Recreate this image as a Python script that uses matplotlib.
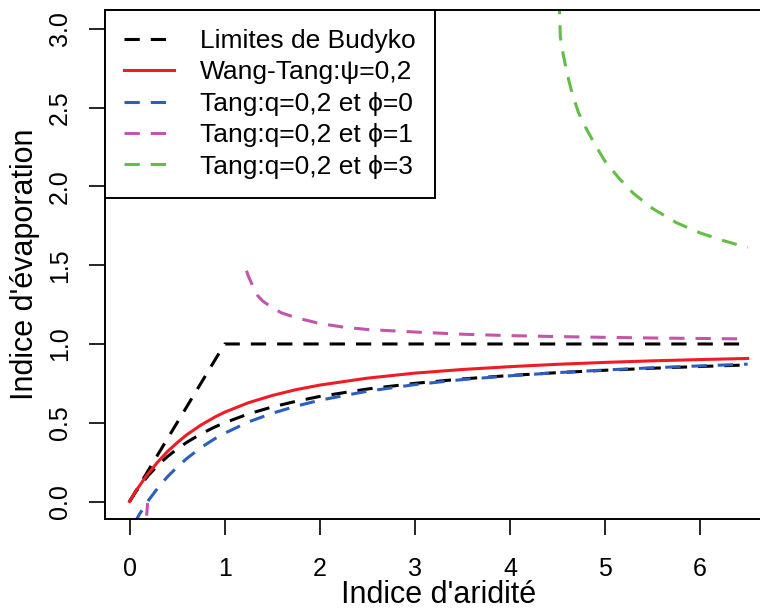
import numpy as np
import matplotlib
matplotlib.use("Agg")
import matplotlib.pyplot as plt

plt.rcParams['font.family'] = ['Liberation Sans', 'DejaVu Sans']

# limites de Budyko
x_lim = [0, 1, 6.5]
y_lim = [0, 1, 1]

# grille commune pour les courbes lisses
x_grid = [0, 0.05, 0.1, 0.15, 0.2, 0.3, 0.4, 0.5, 0.6, 0.75, 0.9, 1.0, 1.25,
          1.5, 1.75, 2.0, 2.5, 3.0, 3.5, 4.0, 4.5, 5.0, 5.5, 6.0, 6.5]
y_budyko = [0, 0.048, 0.091, 0.130, 0.167, 0.231, 0.286, 0.333, 0.375, 0.429,
            0.474, 0.500, 0.556, 0.600, 0.636, 0.667, 0.714, 0.750, 0.778,
            0.800, 0.818, 0.833, 0.846, 0.857, 0.867]
y_wang = [0, 0.050, 0.096, 0.139, 0.180, 0.253, 0.318, 0.373, 0.423, 0.485,
          0.537, 0.567, 0.627, 0.673, 0.710, 0.739, 0.783, 0.815, 0.838,
          0.856, 0.871, 0.883, 0.893, 0.901, 0.908]

x_tang0 = x_grid[1:]
y_tang0 = [-0.140, -0.085, -0.038, 0.008, 0.088, 0.158, 0.218, 0.272, 0.342,
           0.400, 0.433, 0.505, 0.560, 0.605, 0.643, 0.700, 0.742, 0.774,
           0.798, 0.818, 0.835, 0.849, 0.861, 0.872]

x_tang1 = [0.18, 0.19, np.nan, 1.23, 1.25, 1.3, 1.35, 1.4, 1.5, 1.6, 1.75, 2.0,
           2.25, 2.5, 3.0, 3.5, 4.0, 4.5, 5.0, 5.5, 6.0, 6.5]
y_tang1 = [-0.09, -0.01, np.nan, 1.465, 1.43, 1.362, 1.305, 1.273, 1.23, 1.197,
           1.167, 1.130, 1.107, 1.092, 1.076, 1.062, 1.053, 1.047, 1.042,
           1.038, 1.035, 1.032]

x_tang3 = [4.515, 4.52, 4.53, 4.56, 4.6, 4.65, 4.72, 4.8, 4.9, 5.0, 5.15, 5.3,
           5.5, 5.75, 6.0, 6.25, 6.5]
y_tang3 = [3.3, 3.15, 2.95, 2.84, 2.72, 2.60, 2.47, 2.37, 2.26, 2.16, 2.05,
           1.955, 1.86, 1.77, 1.705, 1.655, 1.612]

labels = ['Limites de Budyko', 'Wang-Tang:ψ=0,2', 'Tang:q=0,2 et ϕ=0',
          'Tang:q=0,2 et ϕ=1', 'Tang:q=0,2 et ϕ=3']
colors = ['black', '#EE1C25', '#2B5EBE', '#C255AC', '#62BE45']

fig = plt.figure(figsize=(7.6, 6.12), dpi=100)
ax = fig.add_axes([105 / 760, 93 / 612, 667 / 760, 509 / 612])

lw = 2.2
dash = (5, 3.6)
l1, = ax.plot(x_lim, y_lim, color=colors[0], lw=lw, dashes=dash)
ax.plot(x_grid, y_budyko, color=colors[0], lw=lw, dashes=dash)
l2, = ax.plot(x_grid, y_wang, color=colors[1], lw=lw)
l3, = ax.plot(x_tang0, y_tang0, color=colors[2], lw=lw, dashes=dash)
l4, = ax.plot(x_tang1, y_tang1, color=colors[3], lw=lw, dashes=dash)
l5, = ax.plot(x_tang3, y_tang3, color=colors[4], lw=lw, dashes=dash)

ax.set_xlim(-0.258, 6.756)
ax.set_ylim(-0.111, 3.12)
ax.set_xticks(range(7))
ax.set_yticks([0, 0.5, 1.0, 1.5, 2.0, 2.5, 3.0])
ax.set_yticklabels(['0.0', '0.5', '1.0', '1.5', '2.0', '2.5', '3.0'],
                   rotation=90, va='center')
ax.tick_params(axis='both', labelsize=18, length=11.5, width=1.2)
ax.tick_params(axis='x', pad=16)
ax.tick_params(axis='y', pad=12.5)
for s in ax.spines.values():
    s.set_linewidth(1.4)

ax.set_xlabel("Indice d'aridité", fontsize=22, va='center')
ax.set_ylabel("Indice d'évaporation", fontsize=22, va='center')
ax.xaxis.set_label_coords(0.5, (519 - 595) / 509)
ax.yaxis.set_label_coords((25 - 105) / 667, 0.5)

leg = ax.legend([l1, l2, l3, l4, l5], labels, loc='upper left',
                bbox_to_anchor=(0, 1), borderaxespad=0, fontsize=19,
                frameon=True, fancybox=False, edgecolor='black',
                framealpha=1, handlelength=1.9, handletextpad=0.98,
                labelspacing=0.28, borderpad=0.72)
leg.get_frame().set_linewidth(1.4)

fig.savefig('out.png', dpi=100)
